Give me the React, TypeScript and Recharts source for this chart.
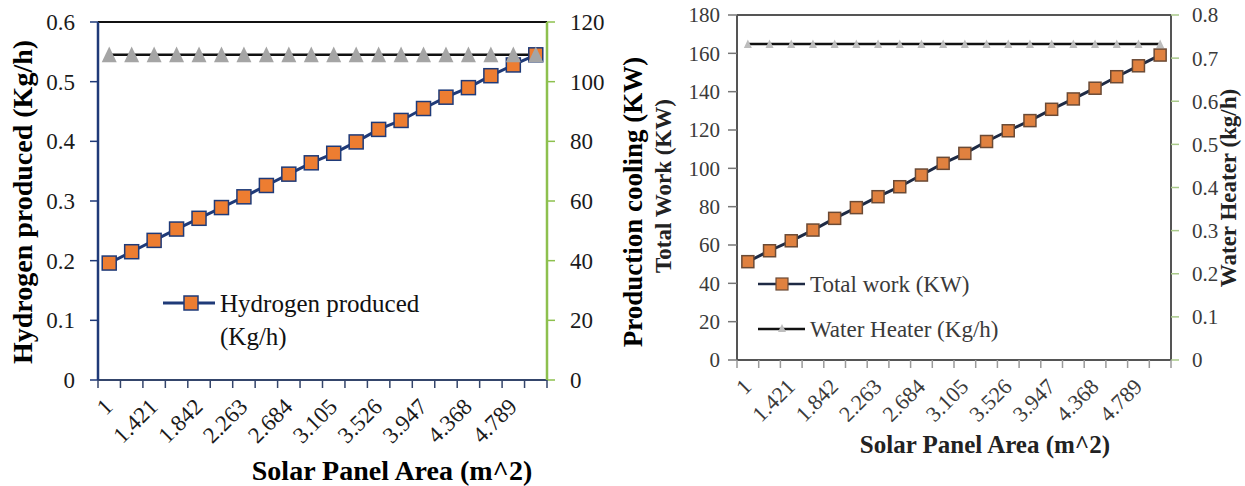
import React from 'react';
import { LineChart, Line, XAxis, YAxis, Legend, ReferenceLine, Label } from 'recharts';

// solar panel area categories (every other one is labelled)
const areaLabels = [
  '1', '1.211', '1.421', '1.632', '1.842', '2.053', '2.263', '2.474', '2.684', '2.895',
  '3.105', '3.316', '3.526', '3.737', '3.947', '4.158', '4.368', '4.579', '4.789', '5',
];

// left panel
const hydrogenProduced = [
  0.196, 0.215, 0.234, 0.253, 0.271, 0.289, 0.307, 0.326, 0.345, 0.364,
  0.38, 0.399, 0.42, 0.435, 0.455, 0.474, 0.49, 0.51, 0.528, 0.545,
];
const productionCooling = [
  109, 109, 109, 109, 109, 109, 109, 109, 109, 109,
  109, 109, 109, 109, 109, 109, 109, 109, 109, 109,
];
const hydrogenTicks = [0, 0.1, 0.2, 0.3, 0.4, 0.5, 0.6];
const coolingTicks = [0, 20, 40, 60, 80, 100, 120];

// right panel
const totalWork = [
  51.3, 57.0, 62.2, 67.8, 73.9, 79.5, 85.2, 90.4, 96.5, 102.6,
  107.8, 114.0, 119.6, 124.9, 130.8, 136.2, 141.8, 147.8, 153.5, 159.1,
];
const waterHeater = [
  0.733, 0.733, 0.733, 0.733, 0.733, 0.733, 0.733, 0.733, 0.733, 0.733,
  0.733, 0.733, 0.733, 0.733, 0.733, 0.733, 0.733, 0.733, 0.733, 0.733,
];
const workTicks = [0, 20, 40, 60, 80, 100, 120, 140, 160, 180];
const heaterTicks = [0, 0.1, 0.2, 0.3, 0.4, 0.5, 0.6, 0.7, 0.8];

const leftData = areaLabels.map((area, i) => ({
  area,
  hydrogen: hydrogenProduced[i],
  cooling: productionCooling[i],
}));

const rightData = areaLabels.map((area, i) => ({
  area,
  work: totalWork[i],
  heater: waterHeater[i],
}));

const FONT = '"Liberation Serif", "Times New Roman", serif';
const NAVY = '#1f3a78';
const ORANGE = '#ed7d31';
const GRAY = '#a5a5a5';

const LEFT_BAND = 449 / 20;
const RIGHT_BAND = 434 / 20;

function makeAreaTick(band: number, color: string, fontSize: number, tickColor: string) {
  return function AreaTick(props: any) {
    const { x, y, payload, index } = props;
    const edge = x - band / 2;
    return (
      <g>
        <line x1={edge} x2={edge} y1={y} y2={y + 8} stroke={tickColor} strokeWidth={1.5} />
        {index === areaLabels.length - 1 && (
          <line x1={x + band / 2} x2={x + band / 2} y1={y} y2={y + 8} stroke={tickColor} strokeWidth={1.5} />
        )}
        {index % 2 === 0 && (
          <text
            x={0}
            y={0}
            transform={`translate(${x + 5},${y + 28}) rotate(-45)`}
            textAnchor="end"
            fill={color}
            fontSize={fontSize}
            fontFamily={FONT}
          >
            {payload.value}
          </text>
        )}
      </g>
    );
  };
}

function makeSquare(size: number, fill: string, stroke: string) {
  return function SquareDot(props: any) {
    const { cx, cy, index } = props;
    if (cx == null || cy == null) return <g key={`s-${index}`} />;
    return (
      <rect
        key={`s-${index}`}
        x={cx - size / 2}
        y={cy - size / 2}
        width={size}
        height={size}
        fill={fill}
        stroke={stroke}
        strokeWidth={1.5}
      />
    );
  };
}

function makeTriangle(half: number, fill: string) {
  return function TriangleDot(props: any) {
    const { cx, cy, index } = props;
    if (cx == null || cy == null) return <g key={`t-${index}`} />;
    const top = cy - half * 1.1;
    const bottom = cy + half;
    return (
      <polygon
        key={`t-${index}`}
        points={`${cx},${top} ${cx - half},${bottom} ${cx + half},${bottom}`}
        fill={fill}
      />
    );
  };
}

function rotatedTitle(text: string, x: number, y: number, size: number, color = '#000') {
  return () => (
    <text
      x={x}
      y={y}
      transform={`rotate(-90, ${x}, ${y})`}
      textAnchor="middle"
      dominantBaseline="central"
      fontFamily={FONT}
      fontWeight="bold"
      fontSize={size}
      fill={color}
    >
      {text}
    </text>
  );
}

function flatTitle(text: string, x: number, y: number, size: number, color = '#000') {
  return () => (
    <text x={x} y={y} textAnchor="middle" fontFamily={FONT} fontWeight="bold" fontSize={size} fill={color}>
      {text}
    </text>
  );
}

function LeftLegend(props: any) {
  const items = (props.payload || []).filter((p: any) => p.type !== 'none');
  return (
    <svg width={300} height={70} style={{ overflow: 'visible' }}>
      {items.map((item: any) => {
        const name = String(item.value);
        const cut = name.indexOf('(');
        return (
          <g key={name}>
            <line x1={3} x2={55} y1={15} y2={15} stroke={NAVY} strokeWidth={3} />
            <rect x={24} y={8} width={14} height={14} fill={ORANGE} stroke={NAVY} strokeWidth={1.5} />
            <text x={60} y={24} fontFamily={FONT} fontSize={25} fill="#111">
              {name.slice(0, cut).trim()}
            </text>
            <text x={60} y={57} fontFamily={FONT} fontSize={25} fill="#111">
              {name.slice(cut)}
            </text>
          </g>
        );
      })}
    </svg>
  );
}

function RightLegend(props: any) {
  const items = props.payload || [];
  return (
    <svg width={300} height={90} style={{ overflow: 'visible' }}>
      {items.map((item: any, i: number) => {
        const cy = 19 + i * 45;
        const isWork = item.dataKey === 'work';
        return (
          <g key={String(item.value)}>
            <line x1={0} x2={47} y1={cy} y2={cy} stroke={isWork ? '#1e2a44' : '#111'} strokeWidth={2.5} />
            {isWork ? (
              <rect x={18} y={cy - 6} width={12} height={12} fill="#e0813f" stroke="#6b4a35" strokeWidth={1.2} />
            ) : (
              <polygon points={`24,${cy - 5} 20,${cy + 3} 28,${cy + 3}`} fill="#bdbdbd" />
            )}
            <text x={52} y={cy + 8} fontFamily={FONT} fontSize={23} fill="#3a3a3a">
              {item.value}
            </text>
          </g>
        );
      })}
    </svg>
  );
}

export default function App() {
  return (
    <div
      style={{
        position: 'absolute',
        left: 0,
        top: 0,
        width: 1245,
        height: 486,
        background: '#fff',
        fontFamily: FONT,
        overflow: 'hidden',
      }}
    >
      <div style={{ position: 'absolute', left: 0, top: 0 }}>
        <LineChart width={655} height={486} data={leftData} margin={{ top: 22, right: 15, bottom: 0, left: 0 }}>
          <XAxis
            dataKey="area"
            interval={0}
            height={106}
            padding={{ left: LEFT_BAND / 2, right: LEFT_BAND / 2 }}
            axisLine={{ stroke: '#34456b', strokeWidth: 2 }}
            tickLine={false}
            tickSize={0}
            tickMargin={0}
            tick={makeAreaTick(LEFT_BAND, '#1a1a1a', 23, '#34456b')}
          >
            <Label content={flatTitle('Solar Panel Area (m^2)', 392, 480, 28)} />
          </XAxis>
          <YAxis
            yAxisId="left"
            width={98}
            domain={[0, 0.6]}
            ticks={hydrogenTicks}
            interval={0}
            axisLine={{ stroke: NAVY, strokeWidth: 2.5 }}
            tickLine={{ stroke: NAVY, strokeWidth: 1.5 }}
            tickSize={8}
            tickMargin={15}
            tick={{ fill: '#1a1a1a', fontSize: 23, fontFamily: FONT }}
          >
            <Label content={rotatedTitle('Hydrogen produced (Kg/h)', 22, 202, 28)} />
          </YAxis>
          <YAxis
            yAxisId="right"
            orientation="right"
            width={93}
            domain={[0, 120]}
            ticks={coolingTicks}
            interval={0}
            axisLine={{ stroke: '#8dc04e', strokeWidth: 2.5 }}
            tickLine={{ stroke: '#8dc04e', strokeWidth: 1.5 }}
            tickSize={8}
            tickMargin={15}
            tick={{ fill: '#1a1a1a', fontSize: 23, fontFamily: FONT }}
          >
            <Label content={rotatedTitle('Production cooling (KW)', 633, 202, 27)} />
          </YAxis>
          <ReferenceLine yAxisId="left" y={0.6} stroke="#111" strokeWidth={2} />
          <Line
            yAxisId="left"
            type="linear"
            dataKey="hydrogen"
            name="Hydrogen produced (Kg/h)"
            stroke={NAVY}
            strokeWidth={3}
            dot={makeSquare(14, ORANGE, NAVY)}
            isAnimationActive={false}
          />
          <Line
            yAxisId="right"
            type="linear"
            dataKey="cooling"
            name="Production cooling (KW)"
            stroke="#111"
            strokeWidth={2.5}
            dot={makeTriangle(7.5, GRAY)}
            legendType="none"
            isAnimationActive={false}
          />
          <Legend
            layout="vertical"
            align="center"
            verticalAlign="middle"
            wrapperStyle={{ left: 160, top: 288, width: 300 }}
            content={LeftLegend}
          />
        </LineChart>
      </div>

      <div style={{ position: 'absolute', left: 640, top: 0 }}>
        <LineChart width={605} height={486} data={rightData} margin={{ top: 15, right: 0, bottom: 0, left: 0 }}>
          <XAxis
            dataKey="area"
            interval={0}
            height={126}
            padding={{ left: RIGHT_BAND / 2, right: RIGHT_BAND / 2 }}
            axisLine={{ stroke: '#555', strokeWidth: 2 }}
            tickLine={false}
            tickSize={0}
            tickMargin={0}
            tick={makeAreaTick(RIGHT_BAND, '#3a3a3a', 22, '#9a9a9a')}
          >
            <Label content={flatTitle('Solar Panel Area (m^2)', 345, 453, 25, '#222')} />
          </XAxis>
          <YAxis
            yAxisId="work"
            width={97}
            domain={[0, 180]}
            ticks={workTicks}
            interval={0}
            axisLine={{ stroke: '#555', strokeWidth: 2 }}
            tickLine={{ stroke: '#777', strokeWidth: 1.5 }}
            tickSize={9}
            tickMargin={8}
            tick={{ fill: '#3a3a3a', fontSize: 21, fontFamily: FONT }}
          >
            <Label content={rotatedTitle('Total Work (KW)', 23, 186, 23, '#222')} />
          </YAxis>
          <YAxis
            yAxisId="heater"
            orientation="right"
            width={74}
            domain={[0, 0.8]}
            ticks={heaterTicks}
            interval={0}
            axisLine={{ stroke: '#555', strokeWidth: 2 }}
            tickLine={{ stroke: '#a9c98a', strokeWidth: 1.5 }}
            tickSize={8}
            tickMargin={13}
            tick={{ fill: '#3a3a3a', fontSize: 21, fontFamily: FONT }}
          >
            <Label content={rotatedTitle('Water Heater (kg/h)', 588, 188, 23, '#222')} />
          </YAxis>
          <ReferenceLine yAxisId="work" y={180} stroke="#555" strokeWidth={2} />
          <Line
            yAxisId="work"
            type="linear"
            dataKey="work"
            name="Total work (KW)"
            stroke="#1e2a44"
            strokeWidth={3}
            dot={makeSquare(12, '#e0813f', '#6b4a35')}
            isAnimationActive={false}
          />
          <Line
            yAxisId="heater"
            type="linear"
            dataKey="heater"
            name="Water Heater (Kg/h)"
            stroke="#111"
            strokeWidth={2.5}
            dot={makeTriangle(4, '#bdbdbd')}
            isAnimationActive={false}
          />
          <Legend
            layout="vertical"
            align="center"
            verticalAlign="middle"
            wrapperStyle={{ left: 118, top: 265, width: 300 }}
            content={RightLegend}
          />
        </LineChart>
      </div>
    </div>
  );
}
